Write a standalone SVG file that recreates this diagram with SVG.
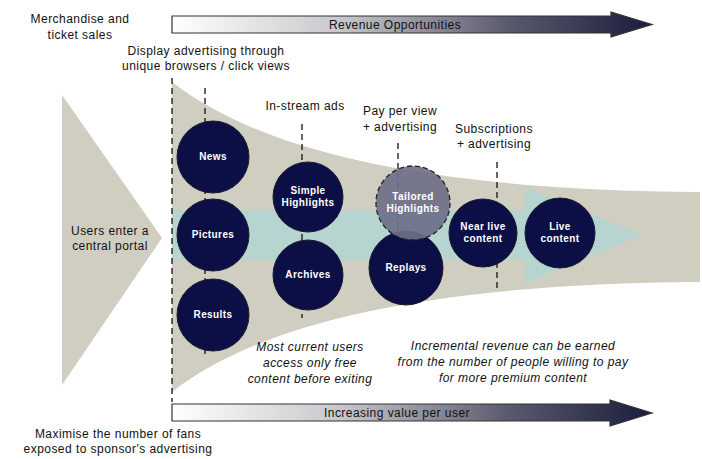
<svg xmlns="http://www.w3.org/2000/svg" width="702" height="459" viewBox="0 0 702 459">
<defs>
<linearGradient id="arrGrad" x1="0" y1="0" x2="1" y2="0">
<stop offset="0" stop-color="#ffffff"/>
<stop offset="0.35" stop-color="#c8c8cc"/>
<stop offset="0.7" stop-color="#5a5a6e"/>
<stop offset="1" stop-color="#1a1c3c"/>
</linearGradient>
<style>
.lbl{font-family:"Liberation Sans",Arial,sans-serif;font-size:12px;letter-spacing:0.45px;fill:#111;text-anchor:middle}
.it{font-style:italic}
.wt{font-family:"Liberation Sans",Arial,sans-serif;font-size:10px;letter-spacing:0.4px;font-weight:bold;fill:#fff;text-anchor:middle}
.circ{fill:#0b0f45;stroke:#1a1a2a;stroke-width:1}
.dash{stroke:#111;stroke-width:1.3;stroke-dasharray:6,4;fill:none}
.shape{fill:#d0cec1}
.arr{fill:url(#arrGrad);stroke:#333;stroke-width:1.2}
</style>
</defs>
<rect width="702" height="459" fill="#fff"/>
<g id="background">
<path class="shape" d="M62,95 L162,238 L62,385 Z"/>
<path class="shape" d="M172,82 C260,150 420,190 700,192 L700,282 C420,284 260,324 172,392 Z"/>
<path fill="#b6d4d0" d="M172,210 L525,210 L525,187 L642,235 L525,283 L525,260 L172,260 Z"/>
</g>
<g id="connectors">
<line class="dash" x1="172" y1="78" x2="172" y2="402"/>
<line class="dash" x1="205" y1="88" x2="205" y2="356"/>
<line class="dash" x1="302" y1="124" x2="302" y2="318"/>
<line class="dash" x1="398" y1="143" x2="398" y2="240"/>
<line class="dash" x1="497" y1="162" x2="497" y2="288"/>
</g>
<g id="revenue-arrow">
<path class="arr" d="M172,16 L611,16 L611,12 L652,24.5 L611,37 L611,33 L172,33 Z"/>
<text class="lbl" x="395" y="28.5">Revenue Opportunities</text>
</g>
<g id="value-arrow">
<path class="arr" d="M172,404 L610,404 L610,400 L652,413 L610,426 L610,421 L172,421 Z"/>
<text class="lbl" x="397" y="416.5">Increasing value per user</text>
</g>
<g id="news"><circle class="circ" cx="213" cy="157" r="36"/><text class="wt" x="213" y="160">News</text></g>
<g id="pictures"><circle class="circ" cx="213" cy="235" r="36"/><text class="wt" x="213" y="238">Pictures</text></g>
<g id="results"><circle class="circ" cx="213" cy="315" r="36"/><text class="wt" x="213" y="318">Results</text></g>
<g id="simple-highlights"><circle class="circ" cx="308" cy="197" r="35"/><text class="wt" x="308" y="194">Simple</text><text class="wt" x="308" y="206">Highlights</text></g>
<g id="archives"><circle class="circ" cx="308" cy="275" r="35"/><text class="wt" x="308" y="278">Archives</text></g>
<g id="replays"><circle class="circ" cx="406" cy="268" r="37"/><text class="wt" x="406" y="271">Replays</text></g>
<g id="tailored-highlights"><circle cx="413" cy="203" r="37" fill="#6f7088" fill-opacity="0.92" stroke="#222" stroke-width="1.3" stroke-dasharray="5,3"/><text class="wt" x="413" y="200">Tailored</text><text class="wt" x="413" y="212">Highlights</text></g>
<g id="near-live"><circle class="circ" cx="483" cy="233" r="34"/><text class="wt" x="483" y="230">Near live</text><text class="wt" x="483" y="242">content</text></g>
<g id="live"><circle class="circ" cx="560" cy="233" r="35"/><text class="wt" x="560" y="230">Live</text><text class="wt" x="560" y="242">content</text></g>
<g id="labels">
<text class="lbl" x="80" y="23">Merchandise and</text>
<text class="lbl" x="80" y="39">ticket sales</text>
<text class="lbl" x="206" y="55">Display advertising through</text>
<text class="lbl" x="206" y="70">unique browsers / click views</text>
<text class="lbl" x="305" y="110">In-stream ads</text>
<text class="lbl" x="400" y="115">Pay per view</text>
<text class="lbl" x="400" y="131">+ advertising</text>
<text class="lbl" x="494" y="133">Subscriptions</text>
<text class="lbl" x="494" y="148">+ advertising</text>
<text class="lbl" x="110" y="235">Users enter a</text>
<text class="lbl" x="110" y="250">central portal</text>
<text class="lbl it" x="310" y="351">Most current users</text>
<text class="lbl it" x="310" y="367">access only free</text>
<text class="lbl it" x="310" y="383">content before exiting</text>
<text class="lbl it" x="513" y="350">Incremental revenue can be earned</text>
<text class="lbl it" x="513" y="366">from the number of people willing to pay</text>
<text class="lbl it" x="513" y="382">for more premium content</text>
<text class="lbl" x="118" y="438">Maximise the number of fans</text>
<text class="lbl" x="118" y="453">exposed to sponsor's advertising</text>
</g>
</svg>
